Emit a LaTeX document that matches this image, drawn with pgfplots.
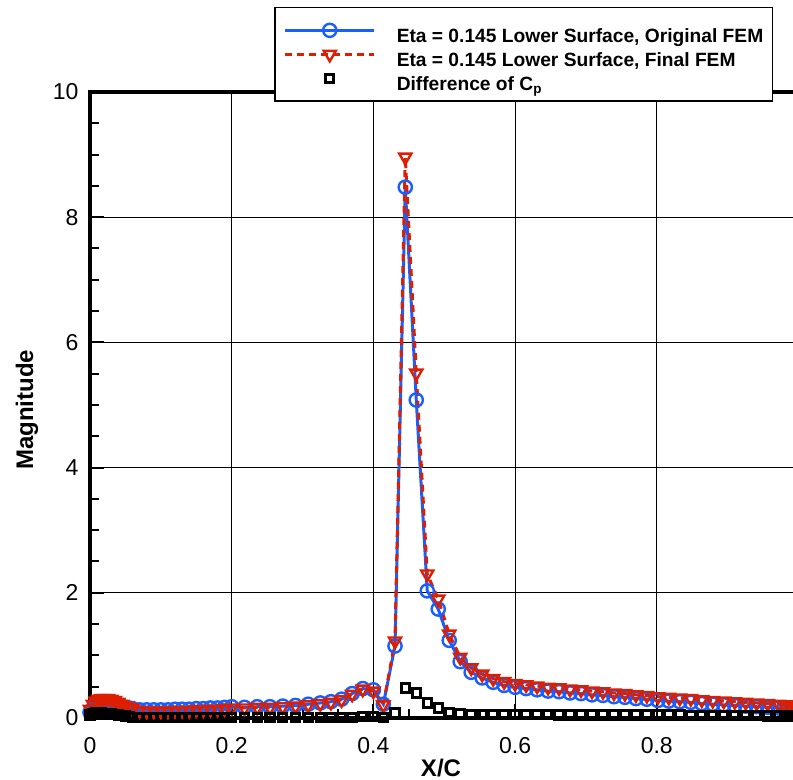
\documentclass[border=0pt]{standalone}
\usepackage{fontspec}
\setmainfont{Liberation Sans}
\usepackage{pgfplots}
\usepackage{pgfplotstable}
\pgfplotsset{compat=1.18}
\definecolor{cblue}{RGB}{25,95,255}
\definecolor{cred}{RGB}{222,30,0}
\pgfplotsset{
  longline legend/.style={legend image code/.code={\draw[mark repeat=2,mark phase=2,##1] plot coordinates {(0pt,0pt) (22.25pt,0pt) (44.5pt,0pt)};}},
  centermark legend/.style={legend image code/.code={\draw[##1] plot coordinates {(22.25pt,0pt)};}},
}
\pgfplotstableread{
x final orig diff
0.000 0.14 0.09 0.05
0.004 0.22 0.15 0.07
0.008 0.27 0.19 0.08
0.012 0.30 0.22 0.08
0.016 0.31 0.23 0.08
0.020 0.31 0.24 0.07
0.025 0.31 0.24 0.07
0.030 0.30 0.23 0.07
0.035 0.28 0.22 0.06
0.040 0.25 0.20 0.05
0.045 0.22 0.18 0.04
0.050 0.19 0.17 0.03
0.055 0.17 0.16 0.02
0.060 0.15 0.15 0.01
0.070 0.12 0.13 0.01
0.080 0.11 0.13 0.01
0.090 0.11 0.13 0.01
0.100 0.11 0.13 0.01
0.110 0.11 0.13 0.01
0.120 0.12 0.14 0.01
0.130 0.12 0.14 0.01
0.140 0.12 0.14 0.01
0.150 0.13 0.15 0.01
0.160 0.13 0.15 0.01
0.170 0.14 0.16 0.01
0.180 0.14 0.16 0.01
0.190 0.15 0.17 0.01
0.200 0.16 0.18 0.01
0.218 0.16 0.17 0.01
0.236 0.17 0.18 0.01
0.254 0.17 0.18 0.01
0.272 0.18 0.19 0.01
0.290 0.19 0.20 0.01
0.308 0.21 0.22 0.01
0.325 0.23 0.24 0.01
0.340 0.25 0.26 0.01
0.355 0.29 0.30 0.01
0.370 0.38 0.39 0.01
0.385 0.46 0.47 0.02
0.400 0.43 0.45 0.02
0.414 0.21 0.22 0.01
0.4305 1.23 1.15 0.08
0.445 8.96 8.48 0.48
0.4605 5.51 5.08 0.40
0.476 2.30 2.03 0.24
0.4915 1.90 1.74 0.16
0.507 1.34 1.24 0.09
0.5225 0.97 0.90 0.07
0.538 0.80 0.73 0.06
0.5535 0.70 0.64 0.06
0.569 0.63 0.57 0.06
0.5845 0.58 0.52 0.06
0.600 0.55 0.49 0.06
0.6155 0.53 0.47 0.06
0.631 0.51 0.45 0.06
0.6465 0.49 0.43 0.06
0.662 0.48 0.42 0.05
0.6775 0.46 0.40 0.05
0.693 0.45 0.39 0.05
0.7085 0.43 0.37 0.05
0.724 0.42 0.36 0.05
0.7395 0.40 0.34 0.05
0.755 0.39 0.33 0.05
0.7705 0.37 0.31 0.05
0.786 0.36 0.30 0.05
0.8015 0.34 0.28 0.05
0.817 0.33 0.27 0.05
0.8325 0.32 0.26 0.05
0.848 0.31 0.25 0.04
0.8635 0.29 0.23 0.04
0.879 0.28 0.22 0.04
0.8945 0.27 0.21 0.04
0.910 0.26 0.20 0.04
0.9255 0.25 0.19 0.04
0.941 0.24 0.18 0.04
0.9565 0.23 0.17 0.03
0.972 0.22 0.16 0.03
0.980 0.21 0.15 0.03
0.986 0.21 0.15 0.03
0.991 0.20 0.15 0.03
0.995 0.20 0.14 0.03
0.998 0.20 0.14 0.03
1.000 0.20 0.14 0.03
}\datatab
\begin{document}
\begin{tikzpicture}
\begin{axis}[
  name=ax,
  at={(0,0)}, anchor=south west,
  scale only axis,
  width=354.25pt, height=313pt,
  xmin=0, xmax=1, ymin=0, ymax=10,
  clip=false,
  axis line style={line width=1.6pt},
  tick pos=left, tick align=inside,
  xtick={0,0.2,0.4,0.6,0.8},
  ytick={0,2,4,6,8,10},
  minor x tick num=3, minor y tick num=3,
  major tick length=7pt, minor tick length=4.5pt,
  every tick/.style={black, line width=1pt},
  grid=major,
  major grid style={black, line width=0.5pt},
  /pgf/number format/assume math mode=true,
  ticklabel style={font=\fontsize{11.5}{13}\selectfont},
  xticklabel style={yshift=-6pt},
  yticklabel style={xshift=-2.2pt},
  xlabel={X/C}, ylabel={Magnitude},
  label style={font=\bfseries\fontsize{12}{14}\selectfont},
  xlabel style={at={(axis description cs:0.4954,-0.0799)}, anchor=center},
  ylabel style={at={(axis description cs:-0.0889,0.492)}, anchor=center},
  legend cell align=left,
  legend style={at={(axis description cs:0.2597,1.1358)}, anchor=north west,
    draw=black, line width=0.75pt, fill=white,
    inner xsep=4.5pt, inner ysep=5.3pt, row sep=0pt,
    font=\bfseries\fontsize{9.6}{11}\selectfont,
    nodes={inner sep=0pt, text height=12pt, text depth=0pt},
    /tikz/every odd column/.append style={column sep=10.5pt}},
]
\addplot[color=cblue, line width=1.5pt, mark=o, mark size=3.3pt,
  mark options={line width=1.2pt, solid}, longline legend]
  table[x=x,y=orig]{\datatab};
\addlegendentry{Eta = 0.145 Lower Surface, Original FEM}
\addplot[color=cred, line width=1.5pt, dash pattern=on 3.5pt off 2.5pt, mark=triangle, mark size=3.5pt,
  mark options={line width=1.2pt, solid, rotate=180}, longline legend]
  table[x=x,y=final]{\datatab};
\addlegendentry{Eta = 0.145 Lower Surface, Final FEM}
\addplot[only marks, color=black, mark=square, mark size=2.1pt,
  mark options={line width=1.5pt}, centermark legend]
  table[x=x,y=diff]{\datatab};
\addlegendentry{Difference of C\textsubscript{p}}
\end{axis}
\pgfresetboundingbox
\path[use as bounding box] ([xshift=-45pt,yshift=-31pt]ax.south west) rectangle ([xshift=351.5pt,yshift=359pt]ax.south west);
\end{tikzpicture}
\end{document}
